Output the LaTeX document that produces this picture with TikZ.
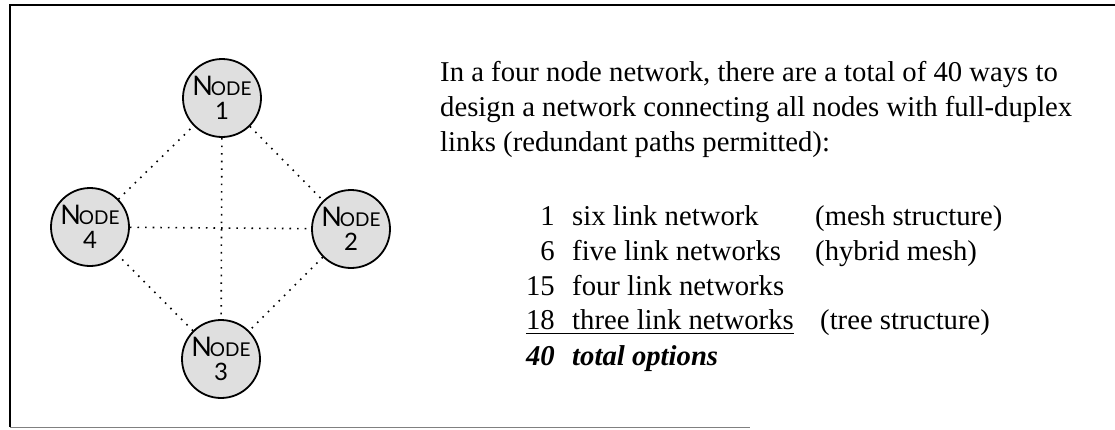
\documentclass[tikz,border=0pt]{standalone}
\usepackage{fontspec}
\setmainfont{Liberation Serif}
\newfontfamily\nodefont{Lato}
\usepackage{tikz}

\newcommand{\nodelabel}[1]{{\fontsize{27}{27}\selectfont N\kern-2pt\fontsize{19}{19}\selectfont ODE}\\{\fontsize{24}{24}\selectfont #1}}

\tikzset{
    netnode/.style = {circle , draw , line width = 1.8pt , fill = gray!25 , minimum size = 78pt , inner sep = 0pt , align = center , font = \nodefont\fontsize{22}{24}\selectfont},
    link/.style = {line width = 1.6pt , dash pattern = on 1.6pt off 6pt},
    body/.style = {inner sep = 0pt , font = \fontsize{28.7}{35}\selectfont}
}

\begin{document}
\begin{tikzpicture}[x = 1pt , y = -1pt]
    \useasboundingbox (0,0) rectangle (1115,429);
    \draw[line width = 2.5pt] (1115,5) -- (10,5) -- (10,427); % Rahmen
    \draw[gray , line width = 1pt] (10,427) -- (750,427);

    % Netz
    \node[netnode] (n1) at (222,98) {\nodelabel{1}};
    \node[netnode] (n2) at (351,229) {\nodelabel{2}};
    \node[netnode] (n3) at (221,359) {\nodelabel{3}};
    \node[netnode] (n4) at (90,227) {\nodelabel{4}};
    \draw[link] (n1) -- (n2);
    \draw[link] (n2) -- (n3);
    \draw[link] (n3) -- (n4);
    \draw[link] (n4) -- (n1);
    \draw[link] (n1) -- (n3);
    \draw[link] (n4) -- (n2);

    % Text
    \node[body , anchor = base west] (p1) at (440,81) {In a four node network, there are a total of 40 ways to};
    \node[body , anchor = base west] (p2) at (440,116) {design a network connecting all nodes with full-duplex};
    \node[body , anchor = base west] (p3) at (440,151) {links (redundant paths permitted):};

    \node[body , anchor = base east] (c1) at (555,225) {1};
    \node[body , anchor = base west] (t1) at (572,225) {six link network};
    \node[body , anchor = base west] (r1) at (815,225) {(mesh structure)};
    \node[body , anchor = base east] (c6) at (555,260) {6};
    \node[body , anchor = base west] (t6) at (572,260) {five link networks};
    \node[body , anchor = base west] (r6) at (815,260) {(hybrid mesh)};
    \node[body , anchor = base east] (c15) at (555,295) {15};
    \node[body , anchor = base west] (t15) at (572,295) {four link networks};
    \node[body , anchor = base east] (c18) at (555,329) {18};
    \node[body , anchor = base west] (t18) at (572,329) {three link networks};
    \node[body , anchor = base west] (r18) at (820,329) {(tree structure)};
    \node[body , anchor = base east] (c40) at (555,365) {\bfseries\itshape 40};
    \node[body , anchor = base west] (t40) at (572,365) {\bfseries\itshape total options};
    \draw[line width = 1pt] ([yshift = -4pt]c18.base west) -- ([yshift = -4pt]t18.base east); % Unterstrich
\end{tikzpicture}
\end{document}
